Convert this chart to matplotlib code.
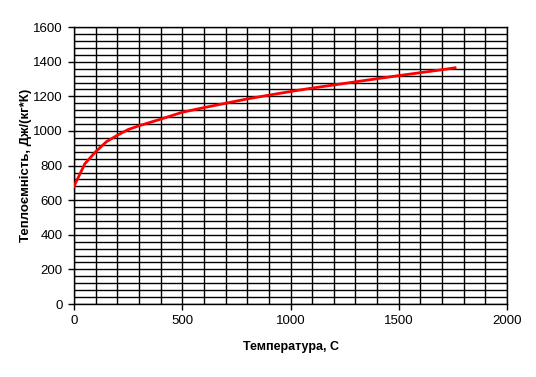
import numpy as np
import matplotlib.pyplot as plt
from matplotlib.ticker import MultipleLocator

# temperature, C and heat capacity, J/(kg*K)
temp = [0, 50, 100, 150, 200, 250, 300, 400, 500, 600, 700, 800, 900,
        1000, 1100, 1200, 1300, 1400, 1500, 1600, 1700, 1760]
cap = [680, 810, 880, 938, 975, 1008, 1030, 1068, 1108, 1135, 1160, 1185, 1207,
       1228, 1248, 1266, 1284, 1302, 1320, 1337, 1354, 1365]

plt.rcParams['font.family'] = ['Liberation Sans', 'DejaVu Sans']

fig = plt.figure(figsize=(5.36, 3.77), dpi=100)
ax = fig.add_axes([0.138, 0.1936, 0.808, 0.7344])

ax.plot(temp, cap, color='#ff0000', lw=2, zorder=3)

ax.set_xlim(0, 2000)
ax.set_ylim(0, 1600)
ax.xaxis.set_major_locator(MultipleLocator(500))
ax.xaxis.set_minor_locator(MultipleLocator(100))
ax.yaxis.set_major_locator(MultipleLocator(200))
ax.yaxis.set_minor_locator(MultipleLocator(40))
ax.grid(which='both', color='black', lw=1)
ax.tick_params(which='minor', length=0)
ax.tick_params(which='major', length=4, width=1, direction='out', labelsize=9.5, pad=4)
for s in ax.spines.values():
    s.set_color('black')
    s.set_linewidth(1)

ax.set_xlabel('Температура, С', fontsize=9, fontweight='bold', labelpad=10)
ax.set_ylabel('Теплоємність, Дж/(кг*К)', fontsize=9.5, fontweight='bold', labelpad=1)

fig.savefig('out.png', dpi=100)
